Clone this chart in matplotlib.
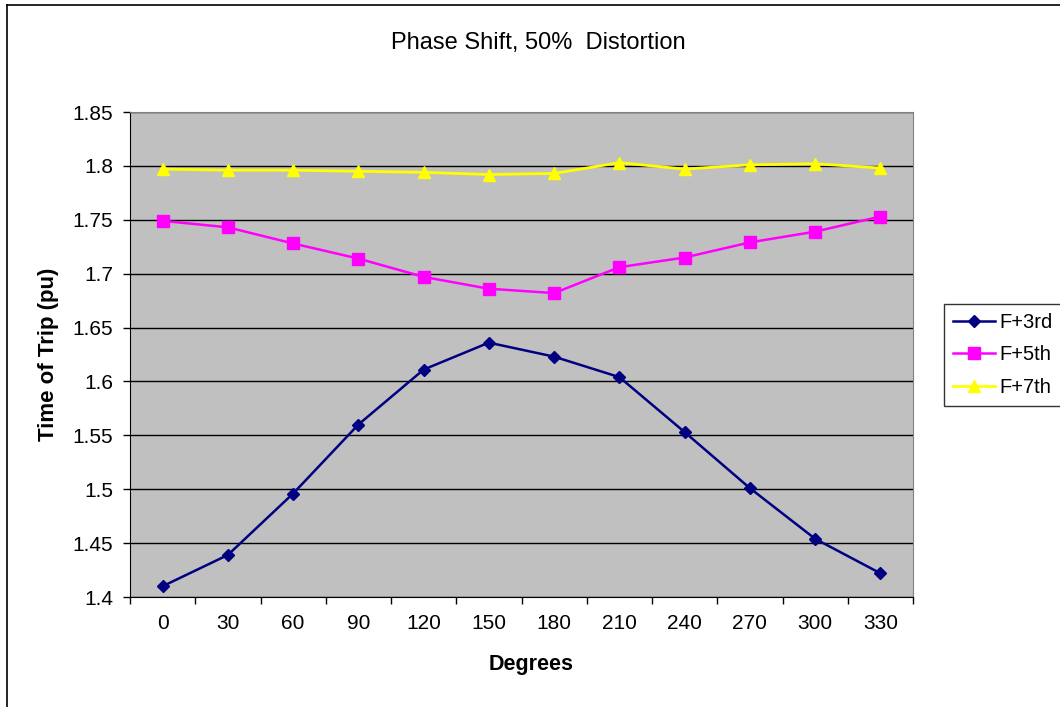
import numpy as np
import matplotlib.pyplot as plt
from matplotlib.lines import Line2D

plt.rcParams['font.family'] = ['Liberation Sans', 'DejaVu Sans']

degrees = ['0', '30', '60', '90', '120', '150', '180', '210', '240', '270', '300', '330']
f3 = [1.410, 1.439, 1.496, 1.560, 1.611, 1.636, 1.623, 1.604, 1.553, 1.501, 1.454, 1.422]
f5 = [1.749, 1.743, 1.728, 1.714, 1.697, 1.686, 1.682, 1.706, 1.715, 1.729, 1.739, 1.753]
f7 = [1.797, 1.796, 1.796, 1.795, 1.794, 1.792, 1.793, 1.803, 1.797, 1.801, 1.802, 1.798]

fig = plt.figure(figsize=(10.6, 7.07), dpi=100)
ax = fig.add_axes([130 / 1060, 1 - 597 / 707, 783 / 1060, 485 / 707])
ax.set_facecolor('#C0C0C0')

x = np.arange(len(degrees))
ax.plot(x, f3, color='#000080', marker='D', markersize=6, lw=1.8, label='F+3rd', zorder=3)
ax.plot(x, f5, color='#FF00FF', marker='s', markersize=8, lw=1.8, label='F+5th', zorder=3)
ax.plot(x, f7, color='#FFFF00', marker='^', markersize=9, lw=2.0, label='F+7th', zorder=3)

ax.set_ylim(1.4, 1.85)
ax.set_yticks(np.arange(1.4, 1.851, 0.05))
ax.set_yticklabels(['1.4', '1.45', '1.5', '1.55', '1.6', '1.65', '1.7', '1.75', '1.8', '1.85'])
ax.yaxis.grid(True, color='black', lw=1)
ax.set_axisbelow(True)

ax.set_xlim(-0.5, len(degrees) - 0.5)
ax.set_xticks(x)
ax.set_xticklabels(degrees)
ax.set_xticks(np.arange(-0.5, len(degrees)), minor=True)
ax.tick_params(axis='x', which='major', length=0, pad=12, labelsize=15)
ax.tick_params(axis='x', which='minor', length=5, width=1, direction='out')
ax.tick_params(axis='y', length=5, width=1, labelsize=15, pad=7)

for side in ['top', 'right']:
    ax.spines[side].set_color('#808080')
ax.spines['left'].set_color('black')
ax.spines['bottom'].set_color('black')

ax.set_xlabel('Degrees', fontsize=15.5, fontweight='bold')
ax.xaxis.set_label_coords(0.5 + 10 / 783, -0.117)
ax.set_ylabel('Time of Trip (pu)', fontsize=16, fontweight='bold', labelpad=10)
fig.text(538 / 1060, 1 - 43 / 707, 'Phase Shift, 50%  Distortion', ha='center', va='center', fontsize=17)

leg = fig.legend(loc='center left', bbox_to_anchor=(944 / 1060, 1 - 355 / 707),
                 fontsize=14.5, frameon=True, fancybox=False, edgecolor='black',
                 handlelength=2.1, borderpad=0.45, labelspacing=0.65, handletextpad=0.2,
                 borderaxespad=0)
leg.get_frame().set_linewidth(1)

fig.add_artist(Line2D([7 / 1060, 7 / 1060], [0, 1 - 5 / 707], color='black', lw=1.2))
fig.add_artist(Line2D([7 / 1060, 1], [1 - 5 / 707, 1 - 5 / 707], color='black', lw=1.2))

fig.savefig('out.png', dpi=100)
